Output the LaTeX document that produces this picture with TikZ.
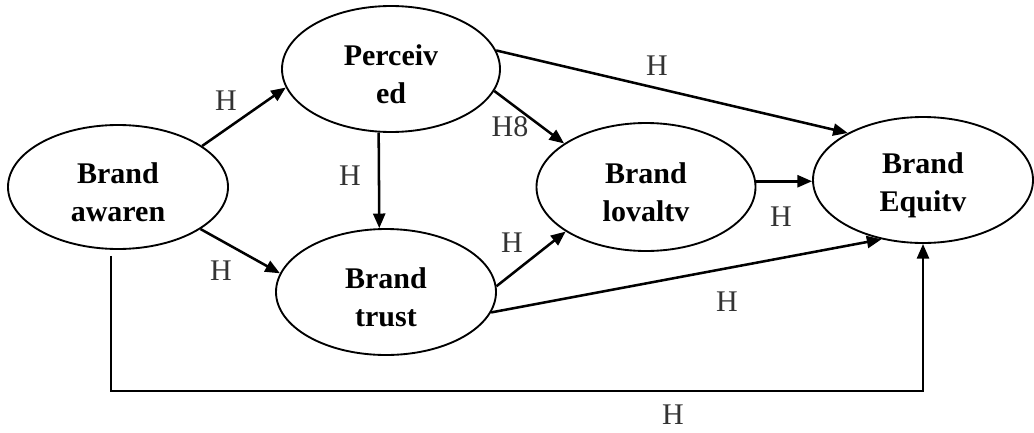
\documentclass[tikz,border=0pt]{standalone}
\usepackage{fontspec}
\setmainfont{Liberation Serif}
\usetikzlibrary{arrows.meta,shapes.geometric}
\definecolor{hcol}{HTML}{333333}
\newcommand{\mytopstrut}{\rule{0pt}{23.5pt}}
\begin{document}
\begin{tikzpicture}[x=0.75pt,y=-0.75pt,
  construct/.style={ellipse,draw,line width=1.4pt,inner sep=0pt,align=center,
    font=\fontsize{22.5}{28.5}\selectfont\bfseries},
  arr/.style={line width=1.9pt,-{Triangle[length=11pt,width=9pt]}},
  hyp/.style={font=\fontsize{22.5}{24}\selectfont,text=hcol,inner sep=0pt}]
\useasboundingbox (0,0) rectangle (1034,432);
% constructs
\node[construct,minimum width=165pt,minimum height=93pt] (aw) at (118,187) {\mytopstrut Brand\\awaren};
\node[construct,minimum width=163.5pt,minimum height=94.5pt] (pc) at (391,69) {\mytopstrut Perceiv\\ed};
\node[construct,minimum width=165pt,minimum height=94.5pt] (tr) at (386,292) {\mytopstrut Brand\\trust};
\node[construct,minimum width=164.25pt,minimum height=96pt] (ly) at (646,187) {\mytopstrut Brand\\lovaltv};
\node[construct,minimum width=165pt,minimum height=94.5pt] (eq) at (923,180) {\mytopstrut Brand\\Equitv};
% connectors
\draw[arr] (aw.26) -- (pc.190);
\draw[arr] (aw.-27) -- (tr.170);
\draw[arr] (pc.259) -- (tr.96);
\draw[arr] (pc.-12) -- (ly.152);
\draw[arr] (pc.10) -- (eq.148);
\draw[arr] (ly.3) -- (ly.3 -| eq.west);
\draw[arr] (tr.3) -- (ly.209);
\draw[arr] (tr.-11) -- (eq.235);
\draw[arr] ([shift={(-7,6)}]aw.south) -- ++(0,135) -| (eq.south);
% hypothesis labels
\node[hyp] (h1) at (226,101) {H};
\node[hyp] (h2) at (221,271) {H};
\node[hyp] (h3) at (350,176) {H};
\node[hyp] (h8) at (510,127) {H8};
\node[hyp] (h4) at (657,66) {H};
\node[hyp] (h5) at (781,217) {H};
\node[hyp] (h6) at (512,243) {H};
\node[hyp] (h7) at (727,302) {H};
\node[hyp] (h9) at (673,415) {H};
\end{tikzpicture}
\end{document}
